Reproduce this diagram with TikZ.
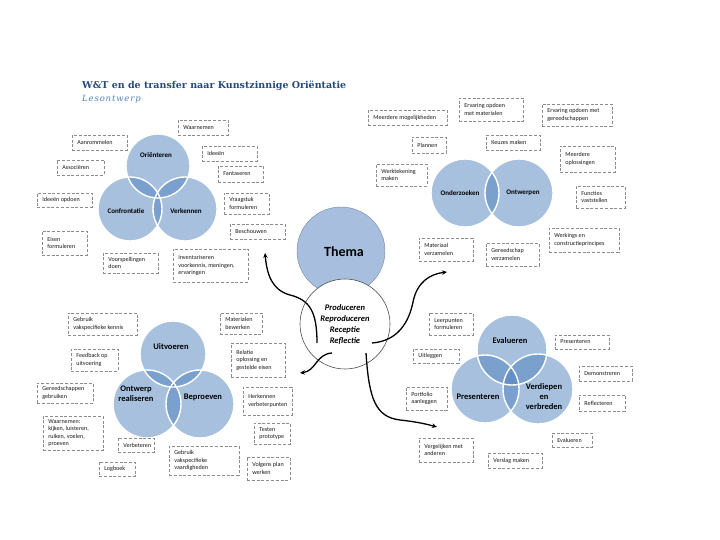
\documentclass[tikz,border=0pt]{standalone}
\usepackage{fontspec}
\setmainfont{Carlito}
\newfontfamily\titlefont{DejaVu Serif}
\newfontfamily\subfont[LetterSpace=10]{DejaVu Serif}
\usetikzlibrary{arrows.meta}
\definecolor{vblue}{HTML}{4F81BD}
\definecolor{themablue}{HTML}{A7BEDF}
\definecolor{titleblue}{HTML}{244A7C}
\definecolor{dashgray}{HTML}{8C8C8C}
\tikzset{
  vfill/.style={circle, inner sep=0pt, fill=vblue, fill opacity=0.5},
  vring/.style={circle, inner sep=0pt, draw=white, line width=1.4pt},
  vlab/.style={font=\fontsize{7}{8.5}\selectfont\bfseries, text=black, align=center, inner sep=0pt},
  vlabb/.style={font=\fontsize{8.5}{10}\selectfont\bfseries, text=black, align=center, inner sep=0pt},
  dbox/.style={draw=dashgray, line width=0.7pt, dash pattern=on 3pt off 1.8pt, inner sep=0pt},
  btxt/.style={font=\fontsize{6.1}{7.5}\selectfont, text=black!90, align=left, inner sep=0pt, anchor=west},
  flow/.style={-{Stealth[length=5pt,width=4.5pt]}, line width=1.3pt},
}
\newcommand\bx[6]{%
  \pgfmathsetmacro\bxw{#4-#2}\pgfmathsetmacro\bxh{#5-#3}%
  \node[dbox, minimum width=\bxw pt, minimum height=\bxh pt] (#1) at ({(#2+#4)/2},{(#3+#5)/2}) {};%
  \node[btxt] (#1t) at ([xshift=5.5pt]#1.west) {#6};}
\newcommand\vc[4]{\node[vfill, minimum size={2*#4 pt}] (#1) at (#2,#3) {};}
\begin{document}
\begin{tikzpicture}[x=1pt,y=-1pt]
\useasboundingbox (0,0) rectangle (720,540);
% title
\node[anchor=west, font=\titlefont\fontsize{9.5}{11}\selectfont\bfseries, text=titleblue, inner sep=0pt] (title) at (82,86) {W\&T en de transfer naar Kunstzinnige Oriëntatie};
\node[anchor=west, font=\subfont\fontsize{8.5}{9}\selectfont\itshape, text=vblue, inner sep=0pt] (sub) at (82,99) {Lesontwerp};

% ---------- Venn top-left
\vc{o1}{158}{166}{32}\vc{o2}{130}{209}{32}\vc{o3}{185}{209}{32}
\foreach \n in {o1,o2,o3}{\node[vring, minimum size=64pt] at (\n) {};}
\node[vlab] (l1) at (156,155) {Oriënteren};
\node[vlab] (l2) at (126,211) {Confrontatie};
\node[vlab] (l3) at (186,211) {Verkennen};

% ---------- Venn top-right
\vc{p1}{465}{193}{34}\vc{p2}{519}{193}{34}
\foreach \n in {p1,p2}{\node[vring, minimum size=68pt] at (\n) {};}
\node[vlab] (l4) at (460,193) {Onderzoeken};
\node[vlab] (l5) at (523,193) {Ontwerpen};

% ---------- Venn bottom-left
\vc{q1}{173}{354}{33}\vc{q2}{147}{404}{34}\vc{q3}{200}{404}{34}
\node[vring, minimum size=66pt] at (q1) {};
\foreach \n in {q2,q3}{\node[vring, minimum size=68pt] at (\n) {};}
\node[vlabb] (l6) at (171,347) {Uitvoeren};
\node[vlabb] (l7) at (136,394) {Ontwerp\\realiseren};
\node[vlabb] (l8) at (203,397) {Beproeven};

% ---------- Venn bottom-right
\vc{r1}{512}{350}{35}\vc{r2}{485}{389}{34}\vc{r3}{538}{389}{35}
\node[vring, minimum size=70pt] at (r1) {};
\node[vring, minimum size=68pt] at (r2) {};
\node[vring, minimum size=70pt] at (r3) {};
\node[vlabb] (l9) at (510,341) {Evalueren};
\node[vlabb] (l10) at (478,397) {Presenteren};
\node[vlabb] (l11) at (544,397) {Verdiepen\\en\\verbreden};

% ---------- centre
\node[circle, inner sep=0pt, minimum size=88pt, fill=themablue, draw=themablue!70!black, line width=0.4pt] (thema) at (341,251) {};
\node[font=\fontsize{14}{16}\selectfont\bfseries, inner sep=0pt] (themat) at (344,252) {Thema};
\node[circle, inner sep=0pt, minimum size=90pt, fill=white, draw=black!70, line width=0.6pt] (proc) at (345,324) {};
\node[font=\fontsize{8.5}{10.8}\selectfont\bfseries\itshape, align=center, inner sep=0pt] (proct) at (345,324.5) {Produceren\\Reproduceren\\Receptie\\Reflectie};

% arrows
\coordinate (s1) at (317,343); \coordinate (t1) at (265,253);
\coordinate (s2) at (372,343); \coordinate (t2) at (447,272);
\coordinate (s3) at (332,353); \coordinate (t3) at (300,373);
\coordinate (s4) at (366,353); \coordinate (t4) at (437,427);
\draw[flow] (s1) .. controls (317,312) and (310,300) .. (290,295) .. controls (272,290) and (267,275) .. (t1);
\draw[flow] (s2) .. controls (398,341) and (409,322) .. (413,302) .. controls (417,282) and (430,274) .. (t2);
\draw[flow] (s3) .. controls (316,354) and (316,371) .. (t3);
\draw[flow] (s4) .. controls (369,400) and (376,417) .. (400,420) .. controls (418,422) and (426,424) .. (t4);

% ---------- boxes top-left
\bx{b1}{72}{135}{127}{150}{Aanrommelen}
\bx{b2}{178}{120}{228}{135}{Waarnemen}
\bx{b3}{57}{160}{104}{175}{Associëren}
\bx{b4}{202}{146}{257}{161}{Ideeën}
\bx{b5}{218}{166}{263}{182}{Fantaseren}
\bx{b6}{37}{193}{92}{207}{Ideeën opdoen}
\bx{b7}{224}{193}{269}{214}{Vraagstuk\\formuleren}
\bx{b8}{230}{224}{285}{239}{Beschouwen}
\bx{b9}{42}{231}{87}{255}{Eisen\\formuleren}
\bx{b10}{103}{253}{158}{273}{Voorspellingen\\doen}
\bx{b11}{173}{249}{248}{282}{Inventariseren\\voorkennis, meningen,\\ervaringen}

% ---------- boxes top-right
\bx{c1}{368}{110}{447}{125}{Meerdere mogelijkheden}
\bx{c2}{459}{98}{523}{121}{Ervaring opdoen\\met materialen}
\bx{c3}{542}{104}{612}{126}{Ervaring opdoen met\\gereedschappen}
\bx{c4}{412}{137}{446}{153}{Plannen}
\bx{c5}{486}{135}{540}{150}{Keuzes maken}
\bx{c6}{376}{164}{427}{186}{Werktekening\\maken}
\bx{c7}{560}{146}{615}{172}{Meerdere\\oplossingen}
\bx{c8}{576}{186}{625}{208}{Functies\\vaststellen}
\bx{c9}{549}{228}{619}{252}{Werkings en\\constructieprincipes}
\bx{c10}{419}{238}{473}{261}{Materiaal\\verzamelen}
\bx{c11}{486}{243}{539}{266}{Gereedschap\\verzamelen}

% ---------- boxes bottom-left
\bx{d1}{68}{313}{137}{335}{Gebruik\\vakspecifieke kennis}
\bx{d2}{220}{313}{262}{334}{Materialen\\bewerken}
\bx{d3}{71}{349}{118}{371}{Feedback op\\uitvoering}
\bx{d4}{231}{343}{285}{377}{Relatie\\oplossing en\\gestelde eisen}
\bx{d5}{37}{383}{93}{403}{Gereedschappen\\gebruiken}
\bx{d6}{243}{387}{292}{415}{Herkennen\\verbeterpunten}
\bx{d7}{43}{416}{103}{450}{Waarnemen:\\kijken, luisteren,\\ruiken, voelen,\\proeven}
\bx{d8}{254}{423}{290}{444}{Testen\\prototype}
\bx{d9}{118}{438}{154}{452}{Verbeteren}
\bx{d10}{169}{446}{239}{475}{Gebruik\\vakspecifieke\\vaardigheden}
\bx{d11}{99}{462}{135}{476}{Logboek}
\bx{d12}{247}{457}{290}{480}{Volgens plan\\werken}

% ---------- boxes bottom-right
\bx{e1}{429}{313}{473}{335}{Leerpunten\\formuleren}
\bx{e2}{555}{335}{609}{349}{Presenteren}
\bx{e3}{413}{349}{459}{363}{Uitleggen}
\bx{e4}{579}{366}{632}{381}{Demonstreren}
\bx{e5}{406}{387}{447}{410}{Portfolio\\aanleggen}
\bx{e6}{579}{395}{625}{411}{Reflecteren}
\bx{e7}{552}{433}{592}{447}{Evalueren}
\bx{e8}{419}{438}{473}{462}{Vergelijken met\\anderen}
\bx{e9}{488}{453}{542}{468}{Verslag maken}
\end{tikzpicture}
\end{document}
